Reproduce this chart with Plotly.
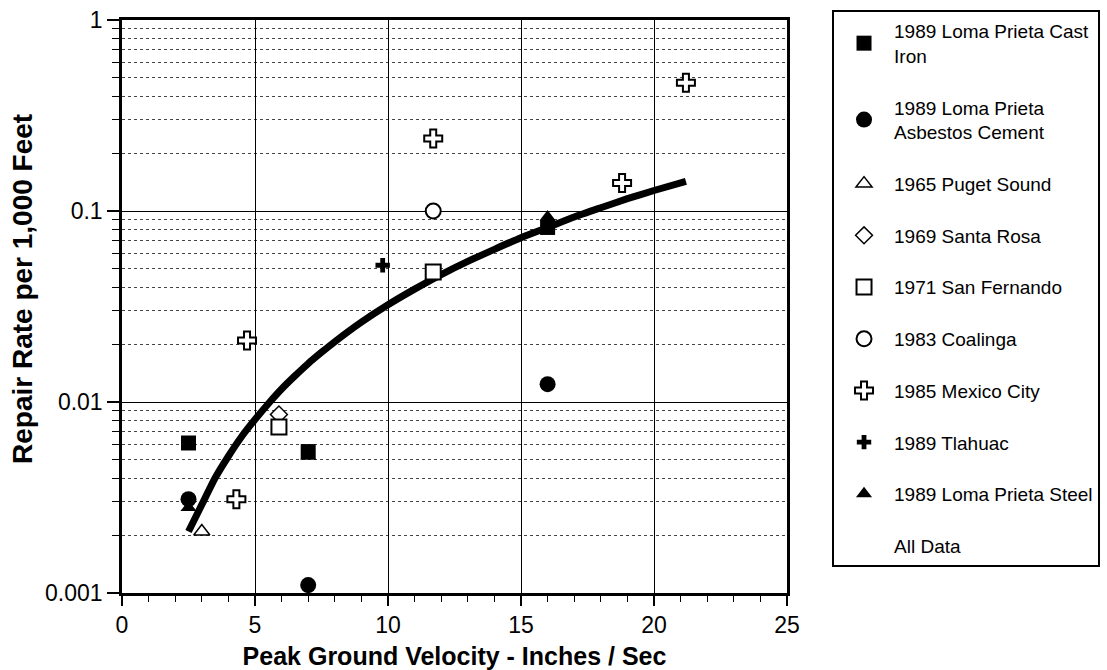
import plotly.graph_objects as go

# ---- data ----
cast_iron_x = [2.5, 7.0, 16.0]
cast_iron_y = [0.0061, 0.0055, 0.082]
asbestos_x = [2.5, 7.0, 16.0]
asbestos_y = [0.0031, 0.0011, 0.0124]
puget_x = [3.0]
puget_y = [0.0021]
santa_rosa_x = [5.9]
santa_rosa_y = [0.0086]
san_fernando_x = [5.9, 11.7]
san_fernando_y = [0.0074, 0.048]
coalinga_x = [11.7]
coalinga_y = [0.10]
mexico_x = [4.3, 4.7, 11.7, 18.8, 21.2]
mexico_y = [0.0031, 0.021, 0.24, 0.14, 0.47]
tlahuac_x = [9.8]
tlahuac_y = [0.052]
steel_x = [2.5, 7.0, 16.0]
steel_y = [0.0028, 0.0052, 0.093]
curve_x = [2.5, 3.0, 3.5, 4.0, 4.5, 5.0, 5.5, 6.0, 6.5, 7.0, 7.5, 8.0, 9.0, 10.0, 11.0, 12.0, 13.0, 14.0, 15.0, 16.0, 17.0, 18.0, 19.0, 20.0, 21.2]
curve_y = [0.0021, 0.0029, 0.0040, 0.0052, 0.0066, 0.0081, 0.0098, 0.0117, 0.0137, 0.0159, 0.0182, 0.0207, 0.0262, 0.0323, 0.039, 0.0465, 0.0545, 0.063, 0.0725, 0.082, 0.093, 0.104, 0.116, 0.128, 0.143]

x_ticks = [0, 5, 10, 15, 20, 25]
y_tickvals = [0.001, 0.01, 0.1, 1]
y_ticktext = ["0.001", "0.01", "0.1", "1"]

FONT = "Liberation Sans, Arial, Helvetica, sans-serif"

fig = go.Figure()

fig.add_trace(go.Scatter(x=curve_x, y=curve_y, mode="lines", line=dict(color="black", width=7, shape="spline", smoothing=0.5),
                         showlegend=False, hoverinfo="skip"))

def add(name, xs, ys, symbol, size, fill, lw=2):
    fig.add_trace(go.Scatter(
        x=xs, y=ys, mode="markers", name=name, legendgroup=name,
        marker=dict(symbol=symbol, size=size, color=fill, line=dict(color="black", width=lw)),
    ))

add("1989 Loma Prieta Cast<br>Iron", cast_iron_x, cast_iron_y, "square", 15, "black", 0)
add("1989 Loma Prieta<br>Asbestos Cement", asbestos_x, asbestos_y, "circle", 16, "black", 0)
add("1965 Puget Sound", puget_x, puget_y, "triangle-up", 14, "white", 1.5)
add("1969 Santa Rosa", santa_rosa_x, santa_rosa_y, "diamond", 13, "white", 1.5)
add("1971 San Fernando", san_fernando_x, san_fernando_y, "square", 15, "white", 2)
add("1983 Coalinga", coalinga_x, coalinga_y, "circle", 15, "white", 2)
add("1985 Mexico City", mexico_x, mexico_y, "cross", 15, "white", 2)
add("1989 Tlahuac", tlahuac_x, tlahuac_y, "cross", 12, "black", 0)
add("1989 Loma Prieta Steel", steel_x, steel_y, "triangle-up", 14, "black", 0)

fig.add_trace(go.Scatter(x=[None], y=[None], mode="markers", name="All Data", legendgroup="All Data",
                         marker=dict(size=1, color="rgba(0,0,0,0)")))

fig.update_layout(
    width=1107, height=670,
    margin=dict(l=122, r=320, t=20, b=77, autoexpand=False),
    paper_bgcolor="white", plot_bgcolor="white",
    font=dict(family=FONT, color="black", size=23),
    showlegend=True,
    legend=dict(
        x=1.0677, y=1.0175, xanchor="left", yanchor="top",
        bgcolor="white", bordercolor="black", borderwidth=2,
        font=dict(size=19, family=FONT), tracegroupgap=24, itemwidth=50,
        itemsizing="trace", maxheight=650,
    ),
    annotations=[dict(
        text="<b>Repair Rate per 1,000 Feet</b>", textangle=-90,
        xref="paper", yref="paper", x=-0.150, y=0.531, xanchor="center", yanchor="middle",
        showarrow=False, font=dict(size=28, family=FONT, color="black"),
    )],
)

fig.update_xaxes(
    automargin=False,
    range=[0, 25], tickvals=x_ticks, ticks="outside", ticklen=10, tickwidth=1.5, tickcolor="black",
    showline=True, linecolor="black", linewidth=2.5, mirror=True,
    showgrid=True, gridcolor="black", gridwidth=1.2, zeroline=False,
    minor=dict(dtick=1, ticks="outside", ticklen=6, tickwidth=1.2, tickcolor="black", showgrid=False),
    title=dict(text="<b>Peak Ground Velocity - Inches / Sec</b>", font=dict(size=25), standoff=12),
    tickfont=dict(size=23),
)
fig.update_yaxes(
    automargin=False,
    type="log", range=[-3, 0], tickvals=y_tickvals, ticktext=y_ticktext,
    ticks="outside", ticklen=12, tickwidth=1.5, tickcolor="black",
    showline=True, linecolor="black", linewidth=2.5, mirror=True,
    showgrid=True, gridcolor="black", gridwidth=1.2, zeroline=False,
    minor=dict(dtick="D1", ticks="outside", ticklen=7, tickwidth=1.2, tickcolor="black",
               showgrid=True, gridcolor="#444444", gridwidth=1, griddash="dot"),
    tickfont=dict(size=23),
)

fig.write_html("out.html")
